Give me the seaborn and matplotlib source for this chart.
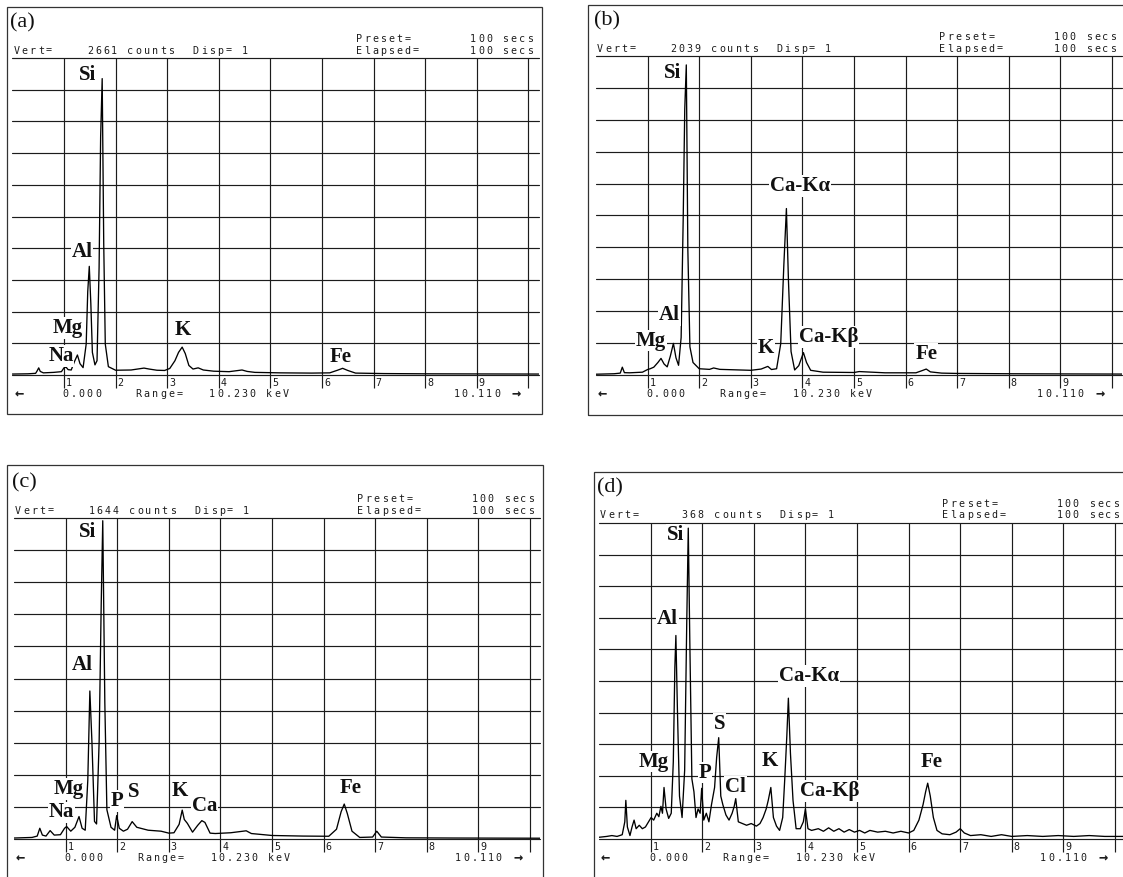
import matplotlib
matplotlib.use('Agg')
import matplotlib.pyplot as plt
import seaborn as sns
from matplotlib.patches import Rectangle

sns.set_theme(style='white')
plt.rcParams['font.family'] = ['DejaVu Sans Mono']

W, H = 1123, 877
PX_PER_KEV = 51.6
E_MAX = 10.2
PITCH = 8.15
INK = '#1c1c1c'

# ---- spectra: energy (keV) and counts ----
VERT_A = 2661
E_A = [0.00, 0.30, 0.45, 0.48, 0.51, 0.54, 0.60, 0.80, 0.95, 1.00, 1.04, 1.08, 1.14, 1.20, 1.26,
       1.31, 1.37, 1.43, 1.46, 1.49, 1.52, 1.55, 1.60, 1.64, 1.68, 1.71, 1.74, 1.77, 1.80, 1.86,
       2.00, 2.30, 2.55, 2.65, 2.80, 2.95, 3.05, 3.15, 3.22, 3.29, 3.35, 3.42, 3.50, 3.60, 3.70,
       3.90, 4.20, 4.45, 4.55, 4.70, 5.20, 5.80, 6.15, 6.30, 6.40, 6.50, 6.65, 7.20, 8.00, 9.00, 10.20]
C_A = [8, 10, 14, 35, 60, 30, 18, 22, 28, 60, 66, 45, 42, 110, 168,
       95, 62, 260, 700, 912, 600, 190, 85, 120, 900, 2000, 2488, 1100, 260, 70,
       40, 42, 58, 50, 40, 38, 55, 120, 190, 234, 180, 80, 50, 60, 42,
       32, 28, 42, 30, 22, 18, 16, 18, 40, 56, 38, 16, 12, 10, 9, 8]

VERT_B = 2039
E_B = [0.00, 0.35, 0.47, 0.51, 0.55, 0.65, 0.90, 1.00, 1.05, 1.12, 1.20, 1.26, 1.32, 1.38, 1.44,
       1.50, 1.55, 1.60, 1.65, 1.69, 1.72, 1.75, 1.78, 1.82, 1.88, 2.00, 2.20, 2.28, 2.40, 2.80,
       3.00, 3.20, 3.33, 3.40, 3.50, 3.58, 3.64, 3.69, 3.73, 3.78, 3.85, 3.93, 4.02, 4.08, 4.16,
       4.40, 5.00, 5.10, 5.60, 6.20, 6.32, 6.40, 6.48, 6.70, 7.00, 8.00, 9.00, 10.20]
C_B = [5, 8, 12, 50, 15, 14, 18, 35, 40, 50, 80, 106, 70, 52, 120,
       202, 110, 62, 240, 1000, 1700, 1982, 800, 180, 80, 40, 36, 45, 36, 32,
       30, 38, 55, 35, 40, 200, 700, 1064, 600, 150, 32, 60, 143, 80, 30,
       18, 16, 22, 14, 14, 28, 38, 20, 12, 10, 8, 7, 6]

VERT_C = 1644
E_C = [0.00, 0.35, 0.45, 0.50, 0.55, 0.62, 0.70, 0.78, 0.90, 0.98, 1.02, 1.10, 1.18, 1.26, 1.32,
       1.38, 1.43, 1.47, 1.51, 1.56, 1.60, 1.65, 1.69, 1.72, 1.76, 1.80, 1.88, 1.95, 1.99, 2.04,
       2.12, 2.20, 2.29, 2.38, 2.60, 2.85, 3.00, 3.10, 3.20, 3.26, 3.30, 3.36, 3.46, 3.56, 3.64,
       3.70, 3.80, 3.90, 4.20, 4.50, 4.60, 5.00, 5.60, 6.10, 6.25, 6.34, 6.40, 6.46, 6.55, 6.70,
       6.95, 7.03, 7.12, 7.60, 8.50, 10.20]
C_C = [5, 8, 15, 55, 20, 15, 43, 20, 22, 55, 64, 40, 60, 115, 55,
       45, 300, 758, 500, 90, 77, 500, 1200, 1630, 700, 150, 60, 45, 120, 55,
       40, 50, 89, 60, 45, 40, 30, 32, 75, 148, 100, 80, 35, 70, 94,
       85, 30, 28, 32, 42, 28, 18, 15, 14, 50, 140, 179, 130, 40, 8,
       10, 40, 10, 6, 5, 4]

VERT_D = 368
E_D = [0.00, 0.15, 0.25, 0.35, 0.45, 0.50, 0.52, 0.55, 0.60, 0.64, 0.68, 0.72, 0.78, 0.84, 0.90,
       0.96, 1.01, 1.06, 1.12, 1.16, 1.20, 1.23, 1.26, 1.30, 1.35, 1.40, 1.44, 1.47, 1.49, 1.52,
       1.56, 1.61, 1.66, 1.70, 1.73, 1.76, 1.80, 1.84, 1.88, 1.92, 1.96, 1.99, 2.03, 2.08, 2.13,
       2.18, 2.24, 2.28, 2.32, 2.36, 2.40, 2.46, 2.52, 2.58, 2.62, 2.65, 2.70, 2.78, 2.86, 2.95,
       3.05, 3.12, 3.18, 3.24, 3.28, 3.33, 3.38, 3.44, 3.50, 3.56, 3.60, 3.64, 3.67, 3.71, 3.76,
       3.82, 3.90, 3.96, 4.00, 4.05, 4.12, 4.25, 4.35, 4.45, 4.55, 4.65, 4.75, 4.85, 4.95, 5.05,
       5.15, 5.25, 5.40, 5.55, 5.70, 5.85, 6.00, 6.10, 6.20, 6.28, 6.33, 6.37, 6.42, 6.48, 6.55,
       6.65, 6.80, 6.92, 7.00, 7.08, 7.20, 7.40, 7.60, 7.80, 8.00, 8.30, 8.60, 8.90, 9.20, 9.50,
       9.80, 10.20]
C_D = [2, 3, 4, 3, 5, 20, 45, 14, 4, 14, 22, 12, 16, 12, 14,
       20, 25, 22, 30, 26, 38, 30, 60, 35, 24, 30, 90, 200, 237, 150,
       50, 25, 80, 250, 362, 230, 70, 55, 25, 35, 30, 59, 22, 30, 20,
       40, 60, 95, 118, 50, 40, 28, 22, 30, 38, 47, 20, 18, 16, 18,
       15, 18, 25, 35, 45, 60, 25, 15, 10, 25, 70, 120, 164, 100, 45,
       12, 12, 20, 35, 12, 10, 12, 9, 13, 9, 12, 8, 11, 8, 10,
       7, 10, 8, 9, 7, 9, 7, 10, 22, 40, 55, 65, 50, 25, 10,
       6, 5, 8, 12, 7, 4, 5, 3, 5, 3, 4, 3, 4, 3, 4,
       3, 3]

# peak labels: name, keV, fraction of full scale
LABELS_A = [('Si', 1.45, 0.947), ('Al', 1.35, 0.388), ('Mg', 1.07, 0.148), ('Na', 0.94, 0.06),
            ('K', 3.31, 0.143), ('Fe', 6.36, 0.058)]
LABELS_B = [('Si', 1.49, 0.948), ('Ca-K\u03b1', 3.95, 0.592), ('Al', 1.42, 0.188), ('Mg', 1.07, 0.108),
            ('K', 3.29, 0.084), ('Ca-K\u03b2', 4.51, 0.12), ('Fe', 6.40, 0.066)]
LABELS_C = [('Si', 1.43, 0.955), ('Al', 1.32, 0.542), ('Mg', 1.06, 0.156), ('Na', 0.92, 0.083),
            ('P', 2.00, 0.118), ('S', 2.32, 0.146), ('K', 3.21, 0.151), ('Ca', 3.70, 0.104),
            ('Fe', 6.52, 0.159)]
LABELS_D = [('Si', 1.49, 0.961), ('Al', 1.33, 0.697), ('Ca-K\u03b1', 4.07, 0.516), ('S', 2.34, 0.365),
            ('Mg', 1.07, 0.245), ('K', 3.31, 0.248), ('Fe', 6.44, 0.245), ('P', 2.05, 0.21),
            ('Cl', 2.65, 0.165), ('Ca-K\u03b2', 4.47, 0.152)]

assert len(E_A) == len(C_A) and len(E_B) == len(C_B)
assert len(E_C) == len(C_C) and len(E_D) == len(C_D)

panels = [
    dict(tag='(a)', e=E_A, c=C_A, vert=VERT_A, labels=LABELS_A, box=(7, 7, 542, 414), x0=12.4, top=58, base=375),
    dict(tag='(b)', e=E_B, c=C_B, vert=VERT_B, labels=LABELS_B, box=(588, 5, 1140, 415), x0=596, top=56, base=375),
    dict(tag='(c)', e=E_C, c=C_C, vert=VERT_C, labels=LABELS_C, box=(7, 465, 543, 890), x0=14, top=518, base=839),
    dict(tag='(d)', e=E_D, c=C_D, vert=VERT_D, labels=LABELS_D, box=(594, 472, 1140, 890), x0=599, top=523, base=839),
]

fig = plt.figure(figsize=(W / 100, H / 100), dpi=100)
fig.patch.set_facecolor('white')


def fx(x):
    return x / W


def fy(y):
    return 1 - y / H


def mono(x, y, s):
    # fixed-pitch dot-matrix style line, one glyph per cell; arrows drawn larger
    for i, ch in enumerate(s):
        if ch == ' ':
            continue
        big = ch in '\u2190\u2192'
        fig.text(fx(x + i * PITCH + (5 if big else 2.5)), fy(y), ch, ha='center', va='center',
                 fontsize=11 if big else 7.2, fontweight='bold' if big else 'normal',
                 color=INK, family='DejaVu Sans Mono')


def line_at(parts):
    s = ''
    for idx, txt in parts:
        s = s.ljust(idx) + txt
    return s


for p in panels:
    x1, y1, x2, y2 = p['box']
    fig.add_artist(Rectangle((fx(x1), fy(y2)), (x2 - x1) / W, (y2 - y1) / H,
                             transform=fig.transFigure, fill=False, ec='#333333', lw=0.9))

    x0, top, base, vert = p['x0'], p['top'], p['base'], p['vert']
    ax = fig.add_axes([fx(x0), fy(base), E_MAX * PX_PER_KEV / W, (base - top) / H])
    ax.patch.set_alpha(0)
    ax.set_xlim(0, E_MAX)
    ax.set_ylim(0, vert)
    for k in range(11):
        ax.axhline(vert * k / 10, color=INK, lw=0.85, zorder=1, clip_on=False)
    for k in range(1, 11):
        ax.axvline(k, color=INK, lw=0.85, zorder=1)

    sns.lineplot(x=p['e'], y=p['c'], ax=ax, color='black', linewidth=0.95,
                 estimator=None, sort=False, zorder=3)

    ax.set_xticks(range(1, 11))
    ax.set_yticks([])
    ax.tick_params(axis='x', direction='out', length=9, width=0.85, color=INK,
                   labelbottom=False, bottom=True)
    for s in ax.spines.values():
        s.set_visible(False)
    ax.set_xlabel('')
    ax.set_ylabel('')

    for k in range(1, 10):
        ax.annotate(str(k), xy=(k, 0), xytext=(2, -8), textcoords='offset pixels',
                    ha='left', va='center', fontsize=7.2, color=INK, family='DejaVu Sans Mono')

    for name, ex, fr in p['labels']:
        ax.text(ex, fr * vert, name, ha='center', va='center', fontsize=15, fontweight='bold',
                family='Liberation Serif', color='#111111', zorder=4,
                bbox=dict(fc='white', ec='none', pad=0.6))

    # header and footer text of the analyser screen
    fig.text(fx(x0 - 2), fy(top - 35), p['tag'], ha='left', va='center',
             fontsize=16, family='Liberation Serif', color='#111111')
    tx = x0 + 1.5
    mono(tx, top - 19, line_at([(42, 'Preset='), (56, '100 secs')]))
    mono(tx, top - 7.5, line_at([(0, 'Vert='), (5, f'{vert:>8d} counts'), (22, 'Disp= 1'),
                                 (42, 'Elapsed='), (56, '100 secs')]))
    mono(tx, base + 19, line_at([(0, '\u2190'), (6, '0.000'), (15, 'Range='), (24, '10.230 keV'),
                                 (54, '10.110'), (61, '\u2192')]))

fig.savefig('out.png', dpi=100, facecolor='white')
